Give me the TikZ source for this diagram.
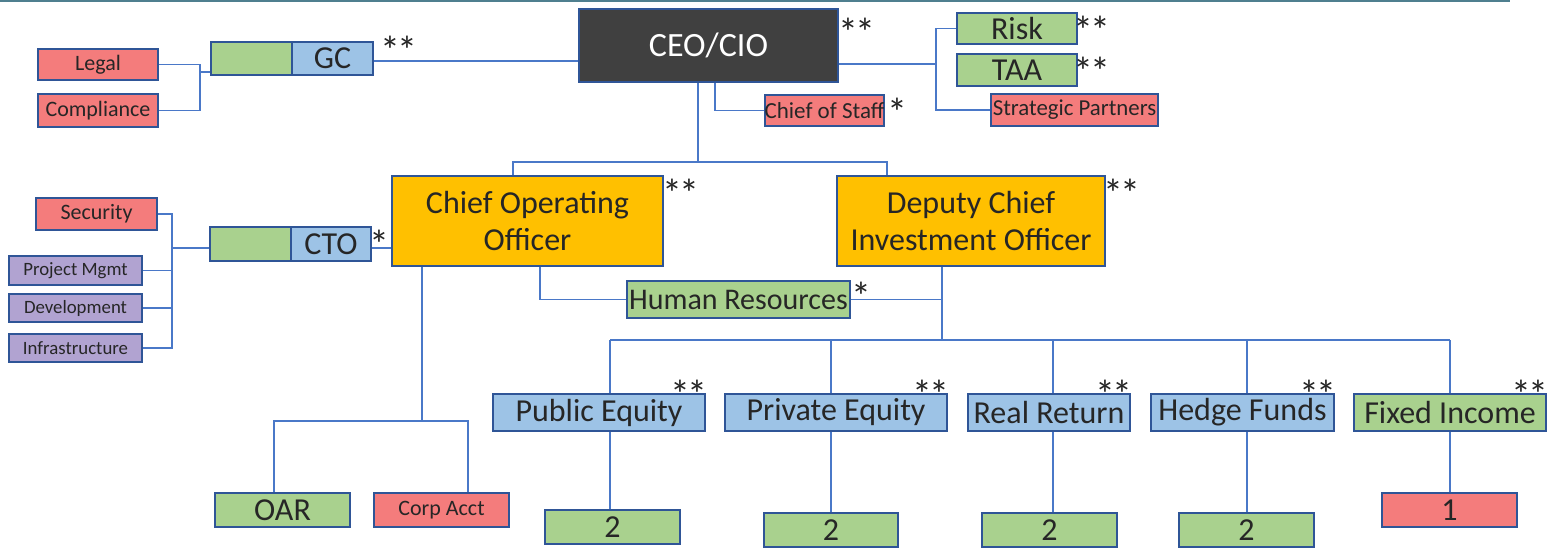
\documentclass[tikz,border=0pt]{standalone}
\usepackage{fontspec}
\setmainfont{Carlito}
\usetikzlibrary{positioning}

\definecolor{boxred}{HTML}{F47C7C}
\definecolor{boxgreen}{HTML}{A9D18E}
\definecolor{boxblue}{HTML}{9DC3E6}
\definecolor{boxorange}{HTML}{FFC000}
\definecolor{boxpurple}{HTML}{B1A3D1}
\definecolor{boxdark}{HTML}{404040}
\definecolor{boxedge}{HTML}{2F5597}
\definecolor{linkblue}{HTML}{4A78C8}
\definecolor{textgrey}{HTML}{262626}
\definecolor{rulecol}{HTML}{4F7F8F}

% two tight asterisks
\newcommand{\dstar}{*\kern-1.5pt*}

\begin{document}
\begin{tikzpicture}[x=0.5pt, y=-0.5pt,
        unit/.style={rectangle, draw=boxedge, line width=1pt, inner sep=0pt, align=center, text=textgrey},
        sz/.style 2 args={minimum width=#1*0.5pt, minimum height=#2*0.5pt},
        redunit/.style={unit, fill=boxred},
        greenunit/.style={unit, fill=boxgreen},
        blueunit/.style={unit, fill=boxblue},
        orangeunit/.style={unit, fill=boxorange, font=\fontsize{16}{18.5}\selectfont},
        purpleunit/.style={unit, fill=boxpurple, font=\fontsize{9.4}{10}\selectfont},
        big/.style={font=\fontsize{16}{17}\selectfont},
        small/.style={font=\fontsize{11}{13}\selectfont},
        line/.style={draw=linkblue, line width=0.7pt},
        stars/.style={inner sep=0pt, text=textgrey, font=\fontsize{20}{20}\selectfont}
    ]
    \useasboundingbox (0,0) rectangle (1547,548);
    \draw[rulecol, line width=1pt] (0,1) -- (1510,1);

    % Top row
    \node[unit, fill=boxdark, text=white, sz={259}{73}, font=\fontsize{17}{20}\selectfont] (ceo) at (708.5,45.5) {CEO/CIO};
    \node[greenunit, sz={81}{33}] (gcpad) at (251.5,58.5) {};
    \node[blueunit, big, sz={81}{33}] (gc) at (332.5,58.5) {GC};
    \node[redunit, small, sz={120}{31}] (legal) at (98,64.5) {Legal};
    \node[redunit, small, sz={120}{33}] (compliance) at (98,110.5) {Compliance};
    \node[redunit, font=\fontsize{11.5}{13}\selectfont, sz={119}{31}] (staff) at (824.5,110.5) {Chief of Staff};
    \node[greenunit, big, sz={120}{31}] (risk) at (1017,28.5) {Risk};
    \node[greenunit, big, sz={120}{32}] (taa) at (1017,70) {TAA};
    \node[redunit, font=\fontsize{11.4}{13}\selectfont, sz={167}{32}] (partners) at (1074.5,110) {Strategic Partners};

    % Officers
    \node[orangeunit, sz={271}{90}] (coo) at (527.5,221) {Chief Operating\\Officer};
    \node[orangeunit, sz={268}{90}] (dcio) at (971,221) {Deputy Chief\\Investment Officer};
    \node[greenunit, font=\fontsize{15}{16}\selectfont, sz={223}{37}] (hr) at (738.5,299.5) {Human Resources};
    \node[greenunit, sz={81}{34}] (ctopad) at (250.5,244) {};
    \node[blueunit, big, sz={80}{34}] (cto) at (331,244) {CTO};
    \node[redunit, small, sz={121}{32}] (security) at (96.5,214) {Security};
    \node[purpleunit, sz={133}{29}] (pm) at (75.5,270.5) {Project Mgmt};
    \node[purpleunit, sz={133}{28}] (dev) at (75.5,308) {Development};
    \node[purpleunit, sz={133}{28}] (infra) at (75.5,348) {Infrastructure};

    % Asset classes and teams
    \node[greenunit, big, sz={135}{34}] (oar) at (282.5,510) {OAR};
    \node[redunit, small, sz={135}{34}] (corp) at (441.5,510) {Corp Acct};
    \node[blueunit, big, sz={212}{37}] (pubeq) at (599,412.5) {Public Equity};
    \node[blueunit, big, sz={222}{37}] (priveq) at (836,412.5) {Private Equity};
    \node[blueunit, big, sz={162}{37}] (realret) at (1049,412.5) {Real Return};
    \node[blueunit, big, sz={183}{37}] (hedge) at (1242.5,412.5) {Hedge Funds};
    \node[greenunit, big, sz={192}{37}] (fixed) at (1450,412.5) {Fixed Income};
    \node[greenunit, big, sz={135}{34}] (pe2) at (612.5,527) {2};
    \node[greenunit, big, sz={134}{34}] (pv2) at (831,530) {2};
    \node[greenunit, big, sz={135}{34}] (rr2) at (1049.5,530) {2};
    \node[greenunit, big, sz={135}{34}] (hf2) at (1246.5,530) {2};
    \node[redunit, big, sz={135}{34}] (fi1) at (1449.5,510) {1};

    % Stars
    \node[stars, below right=5pt and -0.5pt of ceo.north east] {\dstar};
    \node[stars, below right=-2.5pt and 3pt of gc.north east] {\dstar};
    \node[stars, below right=2pt and 1pt of staff.north east] {*};
    \node[stars, below right=2pt and -2.5pt of risk.north east] {\dstar};
    \node[stars, below right=2pt and -2.5pt of taa.north east] {\dstar};
    \node[stars, below right=2pt and -1pt of coo.north east] {\dstar};
    \node[stars, below right=2pt and -1.5pt of dcio.north east] {\dstar};
    \node[stars, below right=1pt and 0pt of hr.north east] {*};
    \node[stars, below right=2pt and -1.5pt of cto.north east] {*};
    \foreach \n in {pubeq, priveq, realret, hedge, fixed}
        \node[stars, below left=-6.5pt and -1pt of \n.north east] {\dstar};

    % Connections
    \coordinate (lcbus) at (200,72);
    \path[line] (legal.east) -| (lcbus) |- (compliance.east);
    \path[line] (lcbus) -- (lcbus -| gcpad.west);
    \coordinate (gcout) at (373,61);
    \path[line] (gcout -| gc.east) -- (gcout -| ceo.west);

    \coordinate (staffin) at (715,118);
    \path[line] (ceo.south -| staffin) |- (staff.west);
    \coordinate (rbus) at (936,64);
    \path[line] (ceo.east |- rbus) -- (rbus);
    \path[line] (risk.west) -| (rbus) |- (partners.west);

    \coordinate (topbus) at (698,162);
    \coordinate (cooin) at (513,162);
    \coordinate (dcioin) at (887,162);
    \path[line] (ceo.south -| topbus) -- (topbus);
    \path[line] (coo.north -| cooin) -- (cooin) -- (dcioin) -- (dcio.north -| dcioin);

    \coordinate (ctobus) at (172,248);
    \path[line] (cto.east |- ctobus) -- (coo.west |- ctobus);
    \path[line] (ctopad.west |- ctobus) -- (ctobus);
    \path[line] (security.east) -| (ctobus) |- (infra.east);
    \path[line] (pm.east) -- (pm.east -| ctobus);
    \path[line] (dev.east) -- (dev.east -| ctobus);

    \coordinate (hrin) at (540,300);
    \path[line] (coo.south -| hrin) |- (hr.west);
    \coordinate (dbus) at (942,340);
    \path[line] (dcio.south -| dbus) -- (dbus);
    \path[line] (hr.east) -- (hr.east -| dbus);
    \foreach \n/\m/\x in {pubeq/pe2/610, priveq/pv2/831, realret/rr2/1053, hedge/hf2/1247, fixed/fi1/1450} {
        \coordinate (\n-in) at (\x,340);
        \path[line] (\n-in) -- (\n.north -| \n-in);
        \path[line] (\n.south -| \n-in) -- (\m.north -| \n-in);
    }
    \path[line] (pubeq-in) -- (fixed-in);

    \coordinate (cbus) at (422,421);
    \coordinate (oarin) at (274,421);
    \coordinate (corpin) at (468,421);
    \path[line] (coo.south -| cbus) -- (cbus);
    \path[line] (oar.north -| oarin) -- (oarin) -- (corpin) -- (corp.north -| corpin);

\end{tikzpicture}
\end{document}
